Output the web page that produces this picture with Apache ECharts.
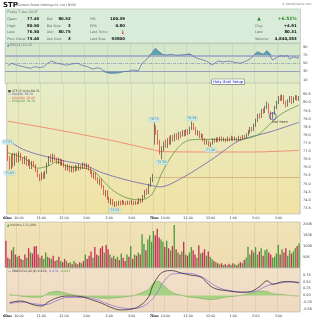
<!DOCTYPE html>
<html><head><meta charset="utf-8">
<script src="https://cdn.jsdelivr.net/npm/echarts@6/dist/echarts.min.js"></script>
<style>html,body{margin:0;padding:0;background:#fff}#c{width:320px;height:320px}</style>
</head><body><div id="c"></div>
<script>
// ---------- DATA ----------
const days = ['6Dec', '7Dec'];
const hourLabels = ['10:00', '11:00', '12:00', '1:00', '2:00', '3:00'];
// 5-minute bars, [open, close, low, high]
const ohlc = [
[77.20,76.50,76.40,77.37],[76.50,76.00,75.85,76.70],[76.00,76.60,75.90,76.80],[76.60,76.20,76.00,76.90],
[76.20,76.70,76.10,76.90],[76.70,76.40,76.30,76.90],[76.40,76.80,76.30,77.00],[76.80,76.50,76.40,76.90],
[76.50,76.30,76.20,76.60],[76.30,76.60,76.20,76.70],[76.60,76.20,76.10,76.70],[76.20,76.40,76.10,76.50],
[76.40,76.00,75.90,76.50],[76.00,76.30,75.90,76.40],[76.30,76.10,76.00,76.40],[76.10,75.80,75.70,76.20],
[75.80,75.50,75.40,75.90],[75.50,75.30,75.15,75.60],[75.30,75.60,75.20,75.70],[75.60,75.40,75.30,75.70],
[75.40,75.70,75.30,75.80],[75.70,76.20,75.60,76.30],[76.20,76.60,76.10,76.70],[76.60,76.40,76.30,76.80],
[76.40,76.70,76.30,76.85],[76.70,76.50,76.40,76.80],[76.50,76.30,76.20,76.60],[76.30,76.50,76.20,76.60],
[76.50,76.20,76.10,76.55],[76.20,76.40,76.10,76.50],[76.40,76.10,76.00,76.45],[76.10,75.90,75.80,76.20],
[75.90,76.10,75.80,76.20],[76.10,75.80,75.70,76.15],[75.80,76.00,75.70,76.10],[76.00,75.85,75.70,76.10],
[75.85,76.05,75.75,76.15],[76.05,75.90,75.80,76.10],[75.90,76.10,75.80,76.20],[76.10,75.95,75.85,76.15],
[75.95,76.20,75.90,76.30],[76.20,76.00,75.90,76.30],[76.00,76.15,75.90,76.25],[76.15,75.90,75.80,76.20],
[75.90,75.70,75.60,76.00],[75.70,75.50,75.40,75.80],[75.50,75.60,75.30,75.70],[75.60,75.30,75.20,75.70],
[75.30,75.10,75.00,75.40],[75.10,75.20,74.90,75.30],[75.20,74.80,74.70,75.30],[74.80,74.40,74.30,74.90],
[74.40,74.50,74.20,74.60],[74.50,74.10,74.00,74.60],[74.10,73.90,73.80,74.20],[73.90,74.00,73.70,74.10],
[74.00,73.75,73.65,74.05],[73.75,73.80,73.56,73.90],[73.80,73.70,73.60,73.90],[73.70,73.85,73.65,73.95],
[73.85,73.75,73.65,73.95],[73.75,73.90,73.70,74.00],[73.90,73.80,73.70,73.95],[73.80,73.75,73.65,73.90],
[73.75,73.85,73.70,73.95],[73.85,73.80,73.70,73.95],[73.80,73.90,73.70,74.00],[73.90,73.75,73.65,73.95],
[73.75,73.85,73.70,73.95],[73.85,73.80,73.70,73.90],[73.80,74.00,73.75,74.10],[74.00,73.90,73.80,74.10],
[73.90,74.20,73.85,74.30],[74.20,74.50,74.10,74.60],[74.50,74.40,74.30,74.70],[74.40,74.90,74.35,75.00],
[74.90,75.30,74.80,75.40],[75.30,75.40,75.10,75.60],
[77.45,78.50,77.40,78.75],[78.50,78.20,78.00,78.60],[78.20,77.60,77.40,78.30],[77.60,77.00,76.80,77.70],
[77.00,77.20,76.50,77.30],[77.20,77.50,77.00,77.60],[77.50,77.30,77.20,77.70],[77.30,77.70,77.20,77.80],
[77.70,77.50,77.40,77.90],[77.50,77.90,77.40,78.00],[77.90,77.70,77.60,78.00],[77.70,78.00,77.60,78.10],
[78.00,77.80,77.70,78.10],[77.80,78.10,77.70,78.20],[78.10,77.90,77.80,78.20],[78.00,78.20,77.90,78.30],
[78.20,78.00,77.90,78.30],[78.00,78.25,77.95,78.35],[78.25,78.10,78.00,78.35],[78.10,78.40,78.05,78.50],
[78.40,78.70,78.30,78.82],[78.70,78.40,78.30,78.75],[78.40,78.10,78.00,78.50],[78.10,78.20,77.95,78.30],
[78.20,77.90,77.80,78.25],[77.90,78.00,77.80,78.10],[78.00,77.70,77.60,78.05],[77.70,77.50,77.40,77.80],
[77.50,77.60,77.40,77.70],[77.60,77.35,77.30,77.65],[77.35,77.45,77.26,77.55],[77.45,77.70,77.40,77.80],
[77.70,77.60,77.50,77.80],[77.60,77.75,77.55,77.85],[77.75,77.65,77.55,77.85],[77.65,77.80,77.60,77.90],
[77.80,77.70,77.60,77.90],[77.70,77.75,77.60,77.85],[77.75,77.65,77.55,77.80],[77.65,77.80,77.60,77.90],
[77.80,77.70,77.60,77.85],[77.70,77.85,77.65,77.95],[77.85,77.75,77.65,77.90],[77.75,77.80,77.65,77.90],
[77.80,77.70,77.60,77.85],[77.70,77.85,77.65,77.95],[77.85,77.75,77.65,77.90],[77.75,77.90,77.70,78.00],
[77.90,77.85,77.75,78.00],[77.85,78.00,77.80,78.10],[78.00,78.20,77.95,78.30],[78.20,78.40,78.10,78.50],
[78.40,78.30,78.20,78.50],[78.30,78.60,78.25,78.70],[78.60,78.90,78.50,79.00],[78.90,79.20,78.80,79.30],
[79.20,79.10,79.00,79.35],[79.10,79.50,79.05,79.60],[79.50,79.40,79.30,79.65],[79.40,79.70,79.35,79.80],
[79.70,79.90,79.60,80.05],[79.90,79.40,79.30,79.95],[79.40,79.10,78.95,79.45],[79.10,79.30,79.00,79.40],
[79.30,79.70,79.25,79.80],[79.70,80.00,79.60,80.10],[80.00,80.30,79.90,80.40],[80.30,80.20,80.10,80.45],
[80.20,80.40,80.10,80.50],[80.40,80.00,79.90,80.45],[80.00,79.80,79.70,80.10],[79.80,80.10,79.75,80.20],
[80.10,80.30,80.00,80.40],[80.30,80.00,79.90,80.40],[80.00,80.25,79.95,80.35],[80.25,80.35,80.15,80.45],
[80.35,80.20,80.10,80.45],[80.20,80.31,80.10,80.40]
];
// volume in thousands
const volume = [
125,45,40,80,95,60,50,55,40,35,60,45,90,70,65,98,100,60,45,55,40,70,50,45,40,55,30,35,50,30,
25,40,30,20,25,15,30,20,15,25,20,30,60,40,55,75,45,95,60,55,90,100,70,105,85,60,45,55,40,50,
35,65,45,30,60,50,100,40,60,55,70,60,155,110,80,130,150,120,
170,150,180,140,130,120,95,125,90,80,100,198,85,70,60,75,120,60,55,70,95,80,60,45,104,65,70,85,
55,75,50,40,30,25,20,15,20,12,15,10,18,12,20,15,10,18,25,20,35,45,97,60,80,70,95,60,75,90,
55,80,85,70,60,45,50,65,106,60,85,70,90,55,80,65,75,90,100,111.4
];
const prevClose = 75.40;
// moving averages read at sample bars [barIndex, value]
const ma50 = [[0,77.7],[7,77.18],[14,76.87],[23,76.6],[32,76.35],[41,76.15],[49,75.73],[58,75.39],[67,75.12],[76,74.9],[81,74.8],[94,75.43],[110,76.6],[123,77.64],[140,78.2],[155,78.78]];
const ma200 = [[0,78.85],[27,78.3],[54,77.69],[78,77.07],[82,76.97],[110,76.95],[130,76.95],[155,77.05]];
const ema20 = [[0,76.9],[9,76.56],[16,75.95],[22,76.1],[26,76.35],[32,76.05],[41,75.95],[46,75.75],[51,75.15],[57,74.5],[64,74.1],[71,74.0],[76,74.25],[79,74.8],[82,75.65],[87,76.66],[92,77.38],[97,77.69],[106,77.73],[118,77.7],[124,77.72],[133,78.0],[140,78.73],[146,79.33],[155,79.84]];
const rsi = [[1,44.6],[3,50.5],[5,47],[7,44.6],[10,41],[13,38],[15,42],[18,40],[20,42],[22,50],[24,56],[27,50.5],[30,48],[32,46],[35,49],[38,50.5],[40,46],[43,42],[46,36],[48,39],[50,38],[53,28],[55,26],[57,25.7],[60,27],[62,29.7],[65,31],[67,34],[70,32],[72,50.5],[75,63],[77,75],[79,87.6],[81,79],[83,72],[85,71],[87,72.5],[90,70.5],[92,71],[95,72],[97,74],[99,68],[101,63],[104,59],[106,56],[109,46],[112,56],[115,54],[118,56],[121,53],[124,50.5],[127,56],[129,61],[131,70],[133,79],[136,72.7],[138,81.7],[141,58.7],[143,64],[145,69.4],[147,68],[149,69.4],[150,61],[152,66],[155,63.3]];
const macd = [[1,-0.26],[7,-0.2],[14,-0.34],[18,-0.38],[22,-0.22],[27,-0.07],[32,-0.02],[39,-0.04],[44,-0.14],[50,-0.28],[55,-0.43],[60,-0.52],[66,-0.49],[71,-0.34],[75,-0.04],[77,0.32],[80,0.68],[83,0.86],[87,0.9],[92,0.82],[97,0.74],[103,0.66],[106,0.46],[110,0.26],[117,0.17],[124,0.12],[129,0.14],[134,0.32],[138,0.53],[141,0.41],[147,0.5],[150,0.5],[155,0.45]];
const signal = [[1,-0.3],[7,-0.24],[14,-0.3],[20,-0.33],[27,-0.16],[32,-0.07],[41,-0.07],[48,-0.16],[53,-0.3],[60,-0.44],[66,-0.47],[71,-0.42],[76,-0.2],[80,0.15],[83,0.5],[88,0.78],[96,0.8],[103,0.68],[108,0.46],[113,0.26],[120,0.16],[127,0.11],[133,0.18],[138,0.35],[145,0.45],[150,0.49],[155,0.48]];
const hist = [[1,0.03],[5,0.0],[10,-0.05],[15,-0.06],[18,-0.05],[22,0.1],[26,0.15],[29,0.12],[33,0.05],[37,0.0],[42,-0.04],[46,-0.06],[50,-0.1],[54,-0.1],[58,-0.08],[62,-0.05],[66,-0.02],[70,0.06],[73,0.15],[75,0.22],[77,0.4],[80,0.52],[83,0.36],[86,0.18],[89,0.06],[92,0.02],[96,-0.05],[100,-0.08],[104,-0.12],[108,-0.15],[112,-0.12],[116,-0.06],[120,-0.03],[124,0.0],[128,0.06],[132,0.13],[136,0.16],[139,0.12],[142,0.05],[146,0.04],[150,0.0],[155,-0.02]];
const priceMarks = [[0,77.37,'top'],[1,75.85,'bottom'],[57,73.56,'bottom'],[78,78.75,'top'],[82,76.50,'bottom'],[98,78.82,'top'],[108,77.26,'bottom']];
const rsiTicks = [10,30,50,70,90];
const priceTicks = [73.5,74.0,74.5,75.0,75.5,76.0,76.5,77.0,77.5,78.0,78.5,79.0,79.5,80.0,80.5];
const volTicks = [50,100,150,200];
const macdTicks = [-0.5,-0.25,0,0.25,0.5,0.75];

// ---------- CHART ----------
const F = 'DejaVu Sans';
const cats = [];
for (let d = 0; d < 2; d++) for (let m = 570; m < 960; m += 5) {
  let h = Math.floor(m / 60), mm = m % 60; let hh = h > 12 ? h - 12 : h;
  cats.push(days[d] + ' ' + hh + ':' + (mm < 10 ? '0' : '') + mm);
}
const hourIdx = {};
for (let d = 0; d < 2; d++) hourLabels.forEach((t, k) => { hourIdx[d * 78 + 6 + 12 * k] = t; });
const dayIdx = {0: days[0], 78: days[1]};
function grad(a, b) { return {type:'linear', x:0, y:0, x2:0, y2:1, colorStops:[{offset:0,color:a},{offset:1,color:b}]}; }
function xAx(gi, showLabel) {
  return {type:'category', gridIndex:gi, data:cats, boundaryGap:true,
    axisLine:{show:false}, axisTick:{show:false},
    splitLine:{show:true, interval:(i)=> hourIdx[i] !== undefined || i === 78, lineStyle:{color:'rgba(110,120,100,0.22)', width:0.6}},
    axisLabel:{show:showLabel, interval:(i)=> hourIdx[i] !== undefined || dayIdx[i] !== undefined, margin:2.5,
      fontFamily:F, fontSize:3.3, color:'#333',
      formatter:(v, i)=> dayIdx[i] !== undefined ? '{d|' + dayIdx[i] + '}' : hourIdx[i],
      rich:{d:{fontFamily:F, fontSize:3.3, fontWeight:'bold', color:'#222'}}}};
}
function yAx(gi, min, max, ticks, fmt) {
  return {type:'value', gridIndex:gi, position:'right', min:min, max:max, scale:true,
    axisLine:{show:false}, axisTick:{show:false}, splitLine:{show:false},
    axisLabel:{customValues:ticks, formatter:fmt, margin:3, fontFamily:F, fontSize:3.5, color:'#444'}};
}
const gridBase = {left:5, right:20, show:true, borderColor:'#a3a89a', borderWidth:0.5};
const volData = volume.map((v, i) => {
  const pc = i === 0 ? ohlc[0][0] : ohlc[i-1][1];
  return {value:v, itemStyle:{color: ohlc[i][1] >= pc ? '#4d9a3e' : '#c4325c'}};
});
function txt(x, y, text, o) {
  return Object.assign({type:'text', x:x, y:y, z:50, style:Object.assign({text:text, fontFamily:F, fontSize:3.4, fill:'#666', verticalAlign:'middle', align:'left'}, o || {})});
}
const V = {fontSize:3.9, fontWeight:'bold', fill:'#111', align:'right'};
const graphics = [
  {type:'rect', z:40, shape:{x:5.5, y:9, width:295, height:34}, style:{fill:'#d9ecd9', stroke:'#a3b3a3', lineWidth:0.5}},
  txt(3, 5, 'STP', {fontSize:7, fontWeight:'bold', fill:'#111'}),
  txt(16, 5, '(Suntech Power Holdings Co. Ltd.) NYSE', {fontSize:3, fill:'#555'}),
  txt(311.5, 4.5, '© StockCharts.com', {fontSize:3, fill:'#777', align:'right'}),
  txt(7.3, 12.6, 'Friday 7-Dec-2007', {fontSize:3.3}),
  txt(7.3, 19, 'Open:'), txt(39.3, 19, '77.45', V),
  txt(7.3, 25.7, 'High:'), txt(39.3, 25.7, '80.50', V),
  txt(7.3, 32.3, 'Low:'), txt(39.3, 32.3, '76.50', V),
  txt(7.3, 39, 'Prev Close:'), txt(39.3, 39, '75.40', V),
  txt(46.7, 19, 'Bid:'), txt(70.7, 19, '80.52', V),
  txt(46.7, 25.7, 'Bid Size:'), txt(70.7, 25.7, '3', V),
  txt(46.7, 32.3, 'Ask:'), txt(70.7, 32.3, '80.75', V),
  txt(46.7, 39, 'Ask Size:'), txt(70.7, 39, '3', V),
  txt(90, 19, 'P/E:'), txt(125, 19, '100.39', V),
  txt(90, 25.7, 'EPS:'), txt(125, 25.7, '0.80', V),
  txt(90, 32.3, 'Last Ticks:'), txt(125, 32.3, '↓', {fontSize:5, fontWeight:'bold', fill:'#e00000', align:'right'}),
  txt(90, 39, 'Last Size:'), txt(125, 39, '93800', V),
  txt(259, 19, '▲', {fontSize:4.5, fill:'#2a7a2a', align:'center'}),
  txt(296.7, 19, '+6.51%', {fontSize:4.4, fontWeight:'bold', fill:'#2a8a2a', align:'right'}),
  txt(255, 25.7, 'Chg:'), txt(296.7, 25.7, '+4.91', V),
  txt(255, 32.3, 'Last:'), txt(296.7, 32.3, '80.31', V),
  txt(255, 39, 'Volume:'), txt(296.7, 39, '4,840,383', V),
  txt(7, 45.3, '▲', {fontSize:3, fill:'#4a70c0'}),
  txt(10, 45.3, 'RSI(14) 63.32', {fontSize:3.2, fill:'#666'}),
  txt(8, 91, '■ STP (5 min) 80.31', {fontSize:3.1, fill:'#444'}),
  txt(8, 94.4, '— MA(50) 78.70', {fontSize:3.1, fill:'#5f5ab0'}),
  txt(8, 97.8, '— MA(200) 76.95', {fontSize:3.1, fill:'#e8604c'}),
  txt(8, 101.2, '— EMA(20) 79.79', {fontSize:3.1, fill:'#5e8e48'}),
  txt(7, 225.3, '▲', {fontSize:3, fill:'#3a8a3a'}),
  txt(10, 225.3, 'Volume 111,400', {fontSize:3.2, fill:'#555'}),
  txt(8, 270.8, '— MACD(12,26,9) 0.452, ', {fontSize:3.2, fill:'#333'}),
  txt(49, 270.8, '0.479, ', {fontSize:3.2, fill:'#7a5ad0'}),
  txt(60, 270.8, '-0.021', {fontSize:3.2, fill:'#5aa03a'}),
  txt(212, 81.8, 'Holy Grail Setup', {fontSize:3.7, fill:'#1010c8', backgroundColor:'#ffffff', borderColor:'#333', borderWidth:0.4, padding:[0.6,1.2,0.4,1.2]})
];
const option = {
  animation:false, backgroundColor:'#ffffff',
  grid:[
    Object.assign({top:43.3, height:40.4, backgroundColor:grad('#d3e6cc','#e3ebc8')}, gridBase),
    Object.assign({top:83, height:131, backgroundColor:grad('#e6edc8','#f1e2a4')}, gridBase),
    Object.assign({top:222, height:45.5, backgroundColor:grad('#f1e4b8','#eedcaf')}, gridBase),
    Object.assign({top:268, height:44, backgroundColor:grad('#f2e1c9','#efd8c0')}, gridBase)
  ],
  xAxis:[xAx(0,false), xAx(1,true), xAx(2,false), xAx(3,true)],
  yAxis:[
    yAx(0, 0, 100, rsiTicks, v=>String(v)),
    yAx(1, 73.13, 81.2, priceTicks, v=>v.toFixed(1)),
    yAx(2, 0, 212, volTicks, v=>v+'K'),
    yAx(3, -0.596, 0.993, macdTicks, v=>v.toFixed(2))
  ],
  graphic:graphics,
  series:[
    {type:'line', xAxisIndex:0, yAxisIndex:0, data:rsi.map(p=>[p[0], Math.max(p[1],70)]), symbol:'none', lineStyle:{width:0}, areaStyle:{origin:70, color:'#4e9ea8', opacity:0.9}, silent:true},
    {type:'line', xAxisIndex:0, yAxisIndex:0, data:rsi.map(p=>[p[0], Math.min(p[1],30)]), symbol:'none', lineStyle:{width:0}, areaStyle:{origin:30, color:'#4e9ea8', opacity:0.9}, silent:true},
    {type:'line', xAxisIndex:0, yAxisIndex:0, data:rsi, symbol:'none', lineStyle:{width:0.7, color:'#5566b0'}, z:5,
      markLine:{silent:true, symbol:'none', label:{show:false}, data:[
        {yAxis:70, lineStyle:{color:'#a9b2c6', width:2.2, type:'solid'}},
        {yAxis:50, lineStyle:{color:'#7885aa', width:0.6, type:[3,1,1,1]}},
        {yAxis:30, lineStyle:{color:'#8590b6', width:0.8, type:'solid'}}]}},
    {type:'line', xAxisIndex:1, yAxisIndex:1, data:ma200, symbol:'none', smooth:0.3, lineStyle:{width:0.8, color:'#f07a66'}},
    {type:'line', xAxisIndex:1, yAxisIndex:1, data:ma50, symbol:'none', smooth:0.3, lineStyle:{width:0.8, color:'#6a62b4'}},
    {type:'line', xAxisIndex:1, yAxisIndex:1, data:ema20, symbol:'none', smooth:0.3, lineStyle:{width:0.8, color:'#5e9a44'}},
    {type:'candlestick', xAxisIndex:1, yAxisIndex:1, data:ohlc, barWidth:1.3, z:6,
      itemStyle:{color:'rgba(255,255,255,0)', color0:'#e00c0c', borderColor:'#2a2a2a', borderColor0:'#e00c0c', borderWidth:0.6},
      markLine:{silent:true, symbol:'none', label:{show:false}, lineStyle:{color:'#b0603c', width:0.7, type:[1,1]},
        data:[[{coord:[78, prevClose]}, {coord:[155, prevClose]}]]}},
    {type:'scatter', xAxisIndex:1, yAxisIndex:1, symbolSize:0, z:8, silent:true,
      data:priceMarks.map(p=>({value:[p[0], p[1]], label:{show:true, position:p[2], distance:1.2, formatter:p[1].toFixed(2),
        fontFamily:F, fontSize:3.2, color:'#2a5c6c', backgroundColor:'#c9eef0', borderColor:'#8ccfd4', borderWidth:0.3, borderRadius:1, padding:[0.5,1]}}))},
    {type:'scatter', xAxisIndex:1, yAxisIndex:1, symbol:'circle', symbolSize:7, z:9, silent:true,
      itemStyle:{color:'rgba(0,0,0,0)', borderColor:'#2646d6', borderWidth:0.8},
      data:[{value:[141, 79.15], label:{show:true, position:[3.5, 7.5], formatter:'Bot here', fontFamily:F, fontSize:3.6, color:'#111', align:'left', verticalAlign:'top'}}]},
    {type:'bar', xAxisIndex:2, yAxisIndex:2, data:volData, barWidth:1.35},
    {type:'line', xAxisIndex:3, yAxisIndex:3, data:hist, symbol:'none', smooth:0.2, lineStyle:{width:0.5, color:'#6aa84a'}, areaStyle:{origin:0, color:'#9ad07a', opacity:0.85}},
    {type:'line', xAxisIndex:3, yAxisIndex:3, data:signal, symbol:'none', smooth:0.4, lineStyle:{width:0.7, color:'#8a66e0'}},
    {type:'line', xAxisIndex:3, yAxisIndex:3, data:macd, symbol:'none', smooth:0.4, lineStyle:{width:0.7, color:'#1a1a1a'}}
  ]
};
const chart = echarts.init(document.getElementById('c'), null, {renderer:'canvas'});
chart.setOption(option);
</script></body></html>
